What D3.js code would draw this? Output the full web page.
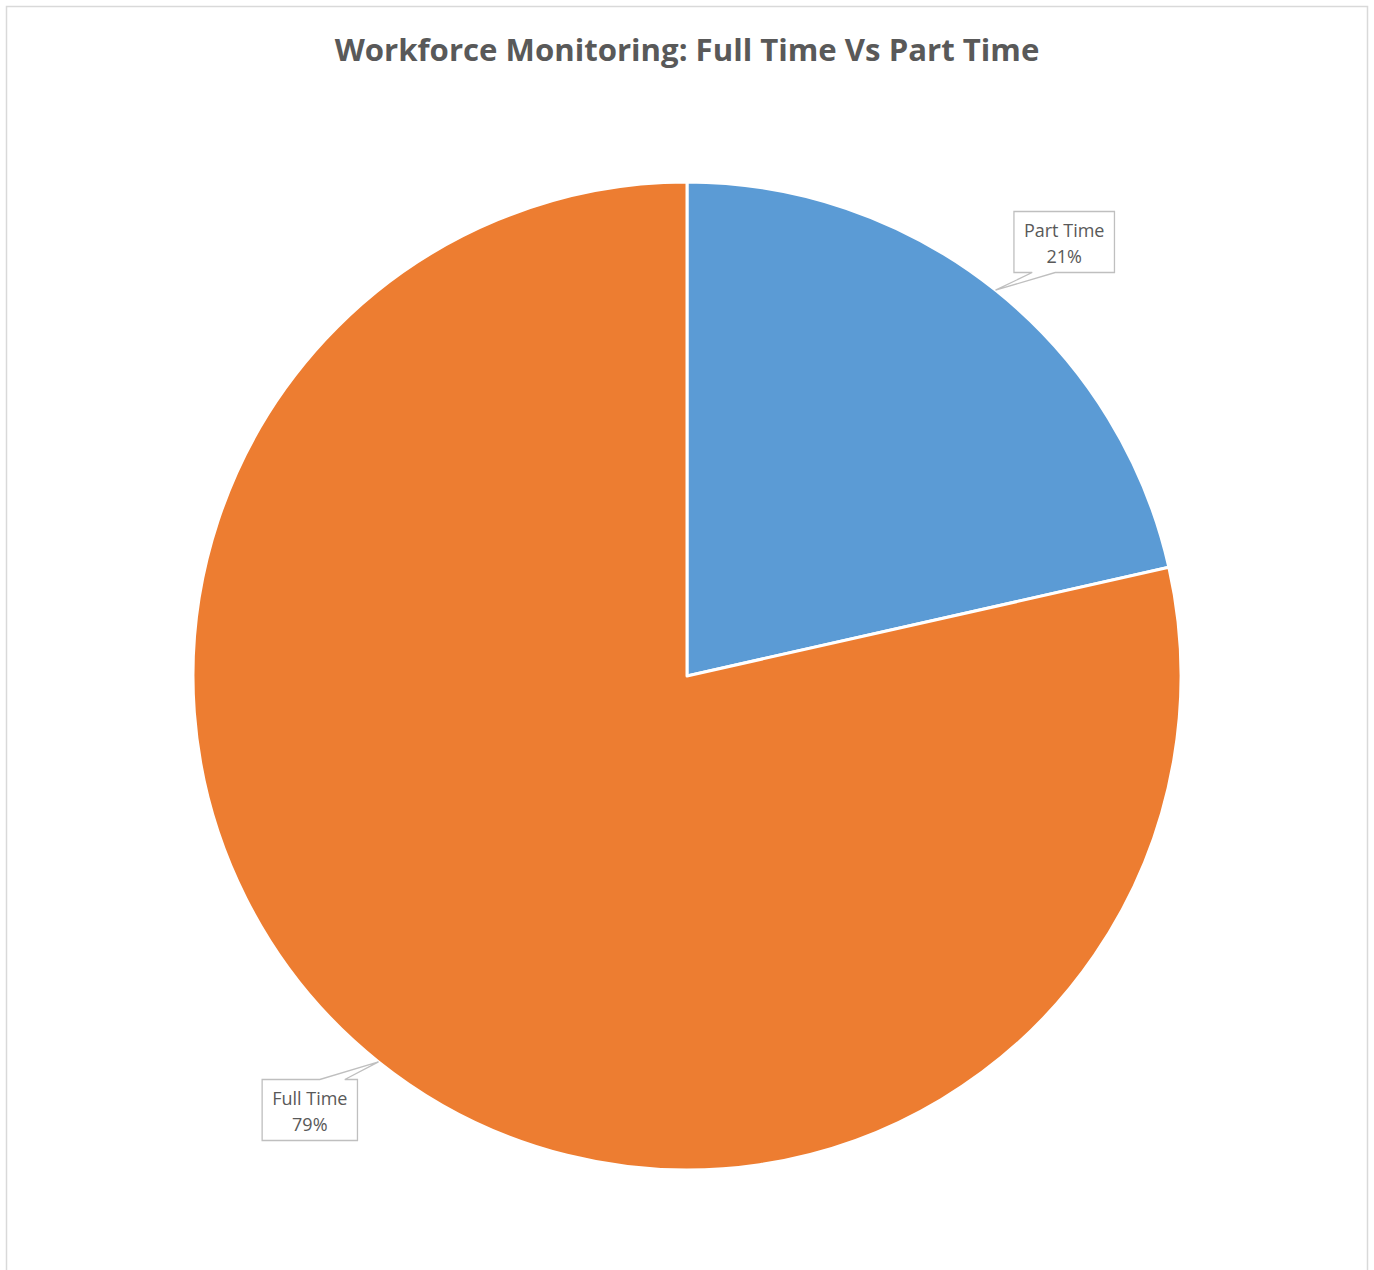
<!DOCTYPE html>
<html><head><meta charset="utf-8">
<script src="https://cdn.jsdelivr.net/npm/d3@7"></script>
<style>html,body{margin:0;padding:0;background:#fff;overflow:hidden}</style>
</head><body>
<svg id="c" width="1374" height="1270"></svg>
<script>
const categories = ["Part Time", "Full Time"];
const values = [0.2147, 0.7853];
const colors = ["#5B9BD5", "#ED7D31"];
const title = "Workforce Monitoring: Full Time Vs Part Time";

const W = 1374, H = 1270;
const svg = d3.select("#c");
svg.append("rect").attr("x", 6.5).attr("y", 6.5).attr("width", 1361).attr("height", 1290)
  .attr("fill", "#fff").attr("stroke", "#d9d9d9").attr("stroke-width", 1.5);

const t = svg.append("text").attr("x", 687).attr("y", 61).attr("text-anchor", "middle")
  .attr("font-family", "'Open Sans', 'Liberation Sans', sans-serif").attr("font-weight", "bold")
  .attr("fill", "#595959").attr("font-size", 28).text(title);
const tw = t.node().getComputedTextLength();
t.attr("font-size", 28 * 705 / tw);

const cx = 687, cy = 676, R = 494;
const pie = d3.pie().sort(null).value(d => d)(values);
const arc = d3.arc().innerRadius(0).outerRadius(R);
const g = svg.append("g").attr("transform", `translate(${cx},${cy})`);
g.selectAll("path.s").data(pie).join("path").attr("class", "s")
  .attr("d", arc).attr("fill", (d, i) => colors[i])
  .attr("stroke", "#fff").attr("stroke-width", 3).attr("stroke-linejoin", "round");

const fmt = d3.format(".0%");
const bh = 61;
pie.forEach((d, i) => {
  const mid = (d.startAngle + d.endAngle) / 2;
  const ax = R * Math.sin(mid), ay = -R * Math.cos(mid);
  const la = mid + 2.35 * Math.PI / 180, lr = 575;
  const bx = lr * Math.sin(la), by = -lr * Math.cos(la);
  const box = g.append("path");
  const tx = g.append("text").attr("text-anchor", "middle")
    .attr("font-family", "'Open Sans', 'Liberation Sans', sans-serif").attr("font-size", 18)
    .attr("fill", "#595959");
  const t1 = tx.append("tspan").attr("x", bx).attr("y", by - 5).text(categories[i]);
  tx.append("tspan").attr("x", bx).attr("y", by + 21).text(fmt(values[i]));
  const bw = t1.node().getComputedTextLength() + 20;
  const L = bx - bw / 2, T = by - bh / 2, Rr = bx + bw / 2, B = by + bh / 2;
  let p;
  if (ay > by) {
    const s = ax < bx ? -1 : 1;
    const b1 = bx + s * 32, b2 = bx + s * 9;
    const x1 = Math.min(b1, b2), x2 = Math.max(b1, b2);
    p = `M${L},${T}H${Rr}V${B}H${x2}L${ax},${ay}L${x1},${B}H${L}Z`;
  } else {
    const s = ax < bx ? -1 : 1;
    const b1 = bx + s * 10, b2 = bx + s * 35;
    const x1 = Math.min(b1, b2), x2 = Math.max(b1, b2);
    p = `M${L},${T}H${x1}L${ax},${ay}L${x2},${T}H${Rr}V${B}H${L}Z`;
  }
  box.attr("d", p).attr("fill", "#fff").attr("stroke", "#bfbfbf").attr("stroke-width", 1.3);
});
</script>
</body></html>
